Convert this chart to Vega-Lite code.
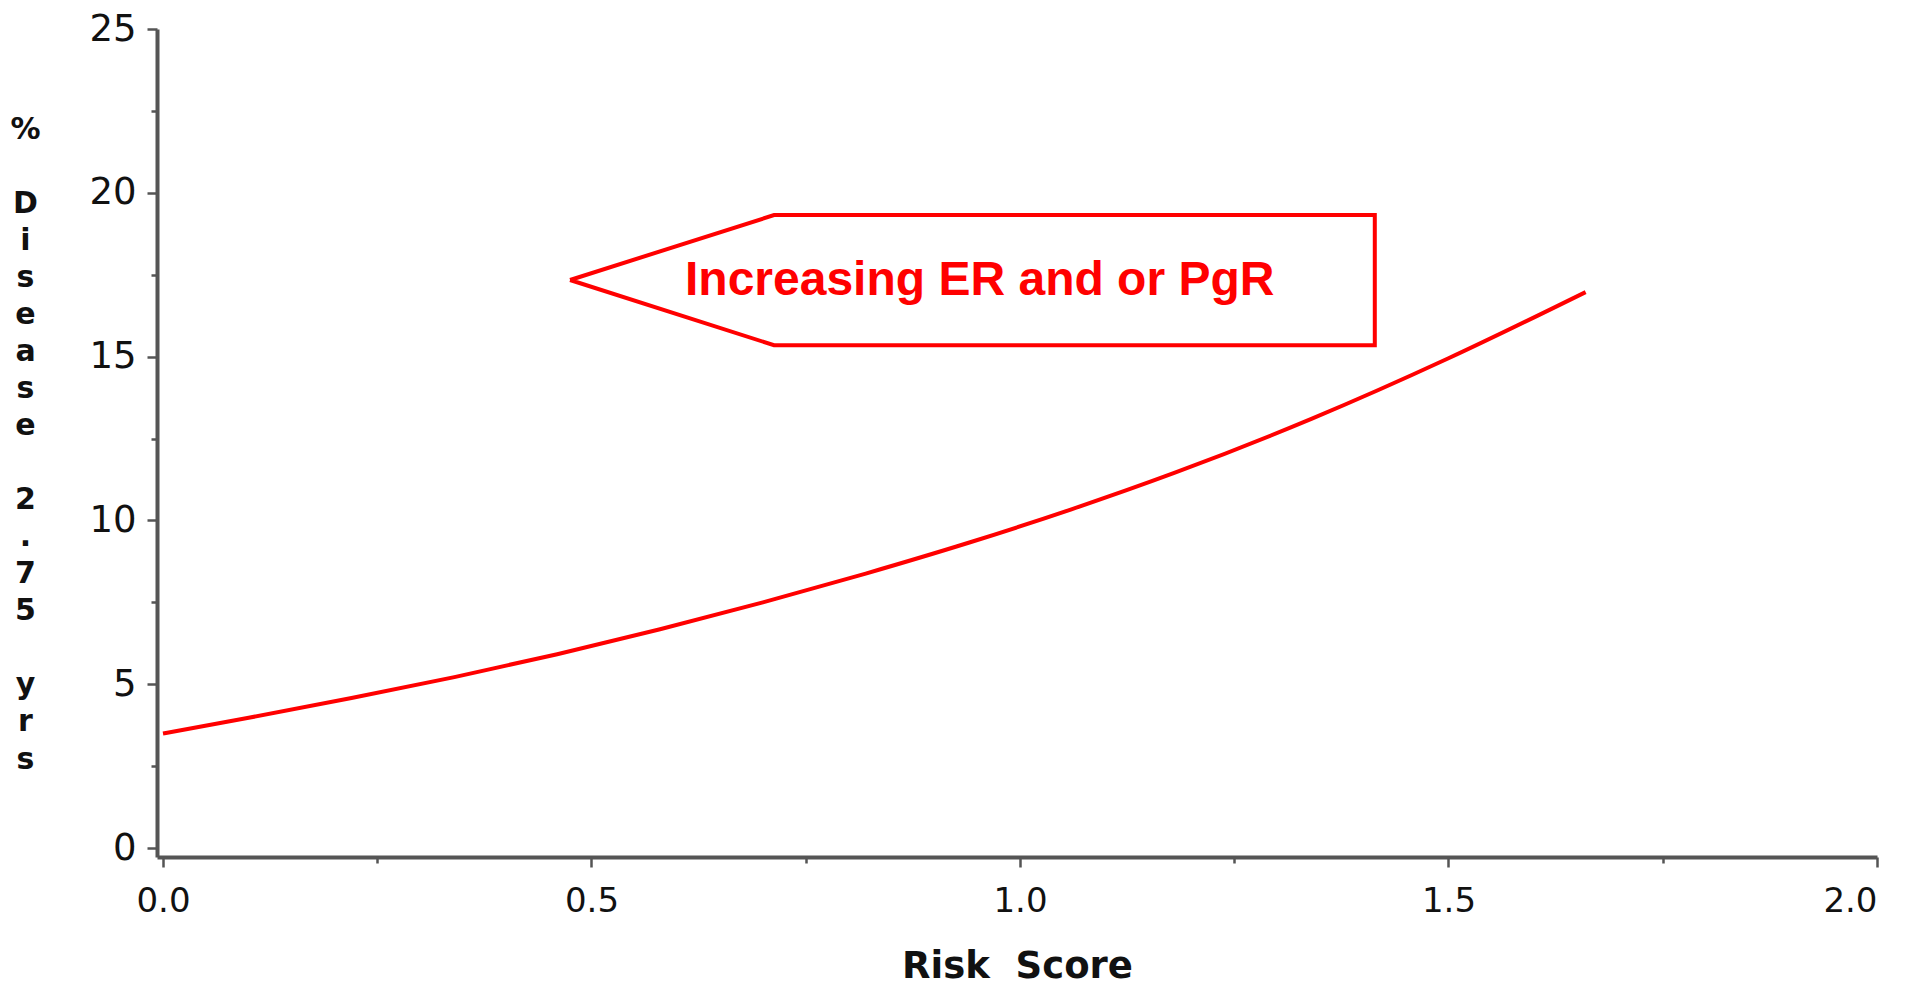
{
  "$schema": "https://vega.github.io/schema/vega-lite/v6.json",
  "width": 1720,
  "height": 828,
  "autosize": "none",
  "padding": {"left": 157, "top": 29, "right": 28, "bottom": 130},
  "background": "white",
  "view": {"stroke": null},
  "config": {
    "axis": {
      "grid": false,
      "domainColor": "#555",
      "domainWidth": 4,
      "tickColor": "#555",
      "tickWidth": 2.5,
      "labelColor": "#111",
      "labelFont": "DejaVu Sans",
      "titleFont": "DejaVu Sans",
      "titleColor": "#111",
      "titleFontWeight": "bold"
    }
  },
  "encoding": {
    "x": {
      "field": "risk",
      "type": "quantitative",
      "scale": {"domain": [-0.007, 2.0], "nice": false, "zero": false},
      "axis": {
        "title": "Risk\u00a0\u00a0Score",
        "titleFontSize": 37,
        "titleBaseline": "alphabetic",
        "titleY": 120,
        "values": [0, 0.25, 0.5, 0.75, 1, 1.25, 1.5, 1.75, 2],
        "labelExpr": "datum.value % 0.5 === 0 ? format(datum.value, '.1f') : ''",
        "labelFontSize": 34,
        "labelPadding": 17,
        "tickSize": {"condition": {"test": "datum.value % 0.5 === 0", "value": 10}, "value": 6}
      }
    },
    "y": {
      "field": "pct",
      "type": "quantitative",
      "scale": {"domain": [-0.27, 25], "nice": false, "zero": false},
      "axis": {
        "title": ["%", "\u200b", "D", "i", "s", "e", "a", "s", "e", "\u200b", "2", ".", "7", "5", "\u200b", "y", "r", "s"],
        "titleAngle": 0,
        "titleAlign": "center",
        "titleBaseline": "top",
        "titleX": -132,
        "titleY": 85,
        "titleFontSize": 30,
        "titleLineHeight": 37.06,
        "values": [0, 2.5, 5, 7.5, 10, 12.5, 15, 17.5, 20, 22.5, 25],
        "labelExpr": "datum.value % 5 === 0 ? datum.label : ''",
        "labelFontSize": 37,
        "labelPadding": 11,
        "tickSize": {"condition": {"test": "datum.value % 5 === 0", "value": 10}, "value": 6}
      }
    }
  },
  "layer": [
    {
      "data": {
        "values": [
          {"risk": 0.00, "pct": 3.50},
          {"risk": 0.10, "pct": 3.98},
          {"risk": 0.22, "pct": 4.58},
          {"risk": 0.34, "pct": 5.22},
          {"risk": 0.46, "pct": 5.92},
          {"risk": 0.58, "pct": 6.68},
          {"risk": 0.70, "pct": 7.50},
          {"risk": 0.82, "pct": 8.38},
          {"risk": 0.94, "pct": 9.32},
          {"risk": 1.06, "pct": 10.34},
          {"risk": 1.18, "pct": 11.45},
          {"risk": 1.34, "pct": 13.10},
          {"risk": 1.50, "pct": 14.95},
          {"risk": 1.66, "pct": 16.97}
        ]
      },
      "mark": {"type": "line", "color": "#ff0000", "strokeWidth": 4, "interpolate": "monotone"}
    },
    {
      "data": {
        "values": [
          {"pt": 1, "risk": 0.475, "pct": 17.34},
          {"pt": 2, "risk": 0.713, "pct": 19.32},
          {"pt": 3, "risk": 1.414, "pct": 19.32},
          {"pt": 4, "risk": 1.414, "pct": 15.35},
          {"pt": 5, "risk": 0.713, "pct": 15.35},
          {"pt": 6, "risk": 0.475, "pct": 17.34}
        ]
      },
      "mark": {"type": "line", "color": "#ff0000", "strokeWidth": 4, "strokeJoin": "miter"},
      "encoding": {"order": {"field": "pt", "type": "quantitative"}}
    },
    {
      "data": {
        "values": [
          {"risk": 0.953, "pct": 16.88, "label": "Increasing ER and or PgR"}
        ]
      },
      "mark": {
        "type": "text",
        "color": "#ff0000",
        "font": "Liberation Sans",
        "fontWeight": "bold",
        "fontSize": 48,
        "align": "center",
        "baseline": "alphabetic"
      },
      "encoding": {"text": {"field": "label"}}
    }
  ]
}
